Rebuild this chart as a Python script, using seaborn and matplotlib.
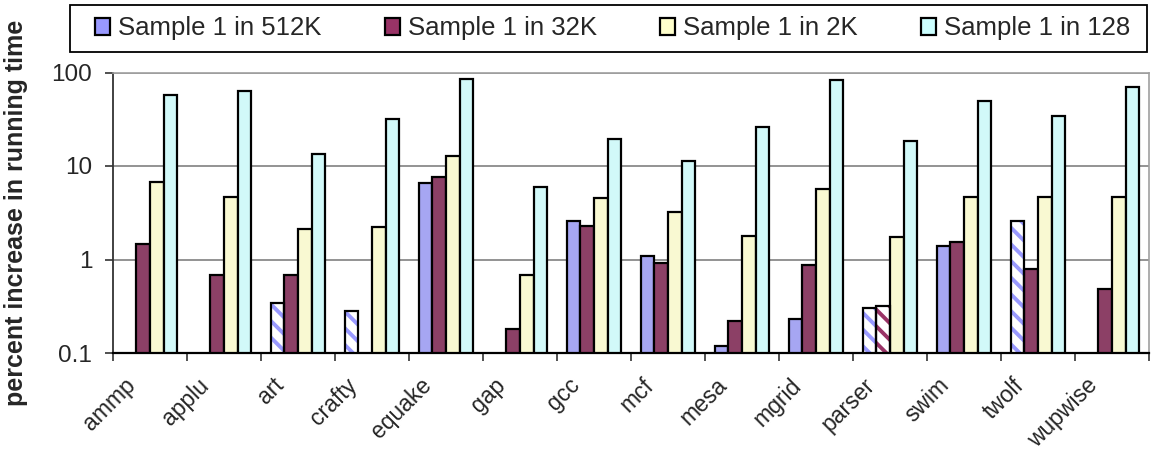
# sampling overhead chart
# 벤치마크별 실행시간 증가율 (log scale)

import numpy as np
import pandas as pd
import seaborn as sns
import matplotlib.pyplot as plt
import matplotlib.transforms as mtransforms
from matplotlib.patches import Patch, Rectangle
from matplotlib.ticker import FixedLocator, FixedFormatter, NullLocator

nan = np.nan

benchmarks = ["ammp", "applu", "art", "crafty", "equake", "gap", "gcc",
              "mcf", "mesa", "mgrid", "parser", "swim", "twolf", "wupwise"]
series_names = ["Sample 1 in 512K", "Sample 1 in 32K",
                "Sample 1 in 2K", "Sample 1 in 128"]

s512k = [nan, nan, 0.34, 0.28, 6.5, nan, 2.55, 1.1, 0.12, 0.23, 0.30, 1.38, 2.55, nan]
s32k = [1.45, 0.69, 0.68, nan, 7.7, 0.18, 2.3, 0.91, 0.22, 0.88, 0.32, 1.55, 0.8, 0.48]
s2k = [6.8, 4.7, 2.1, 2.25, 12.9, 0.68, 4.5, 3.25, 1.8, 5.7, 1.76, 4.7, 4.7, 4.7]
s128 = [58, 64, 13.5, 32, 85, 6.0, 19.6, 11.4, 26, 83, 18.6, 49, 34, 70]

# 빗금 막대 (hatched bars)
h512k = [False, False, True, True, False, False, False,
         False, False, False, True, False, True, False]
h32k = [False, False, False, False, False, False, False,
        False, False, False, True, False, False, False]
h2k = [False] * 14
h128 = [False] * 14

colors = ["#9999FF", "#993366", "#FFFFCC", "#CCFFFF"]

# long form 데이터프레임
df = pd.DataFrame({
    "benchmark": benchmarks * 4,
    "series": np.repeat(series_names, len(benchmarks)),
    "value": s512k + s32k + s2k + s128,
}).dropna()
hatched = [h512k, h32k, h2k, h128]

sns.set_style("white")
plt.rcParams["font.family"] = ["Liberation Sans", "DejaVu Sans"]
plt.rcParams["hatch.linewidth"] = 2.8

fig = plt.figure(figsize=(11.51, 4.55), dpi=100)
ax = fig.add_axes([113 / 1151, 1 - 353 / 455, 1036 / 1151, (353 - 72.5) / 455])

sns.barplot(data=df, x="benchmark", y="value", hue="series",
            order=benchmarks, hue_order=series_names,
            palette=dict(zip(series_names, colors)),
            width=0.74, gap=0, edgecolor="black", linewidth=1.6,
            legend=False, ax=ax)
ax.set_yscale("log")
ax.set_ylim(0.1, 100)
ax.set_xlim(-0.5, len(benchmarks) - 0.5)

# 빗금 처리
for i, cont in enumerate(ax.containers):
    for bar in cont:
        k = int(round(bar.get_x() + bar.get_width() / 2))
        if hatched[i][k]:
            bar.set_facecolor("white")
            bar.set_edgecolor(colors[i])
            bar.set_hatch("\\\\")
            bar.set_linewidth(0)
            ax.add_patch(Rectangle(bar.get_xy(), bar.get_width(), bar.get_height(),
                                   fill=False, edgecolor="black", linewidth=1.6,
                                   zorder=bar.get_zorder() + 0.1))

# 격자선
ax.yaxis.grid(True, color="#808080", linewidth=1.2)
ax.set_axisbelow(True)

# y축
ax.yaxis.set_major_locator(FixedLocator([0.1, 1, 10, 100]))
ax.yaxis.set_major_formatter(FixedFormatter(["0.1", "1", "10", "100"]))
ax.yaxis.set_minor_locator(NullLocator())
ax.tick_params(axis="y", which="major", direction="out", length=6, width=1.2,
               color="#333333", pad=9, labelsize=17.5, left=True)

# x축: 경계에 눈금, 가운데에 라벨
ax.set_xticks(np.arange(len(benchmarks) + 1) - 0.5)
ax.set_xticklabels([])
ax.set_xticks(np.arange(len(benchmarks)), minor=True)
ax.set_xticklabels(benchmarks, minor=True, rotation=45, ha="right", va="top")
ax.tick_params(axis="x", which="major", direction="out", length=6, width=1.2,
               color="#333333", bottom=True)
ax.tick_params(axis="x", which="minor", length=0, pad=15, labelsize=16.5)
offset = mtransforms.ScaledTranslation(-0.10, 0, fig.dpi_scale_trans)
for lab in ax.get_xticklabels(minor=True):
    lab.set_transform(lab.get_transform() + offset)
ax.set_xlabel("")

ax.set_ylabel("percent increase in running time", fontsize=18, fontweight="bold")
ax.yaxis.set_label_coords(-0.082, 0.5)

for side in ["top", "right"]:
    ax.spines[side].set_color("#a0a0a0")
    ax.spines[side].set_linewidth(1.2)
ax.spines["left"].set_color("#333333")
ax.spines["left"].set_linewidth(1.3)
ax.spines["bottom"].set_color("black")
ax.spines["bottom"].set_linewidth(1.6)

# 범례
handles = [Patch(facecolor=c, edgecolor="black", linewidth=1.6) for c in colors]
leg = fig.legend(handles, series_names, loc="center", ncol=4, mode="expand",
                 bbox_to_anchor=(95 / 1151, 1 - 52 / 455, 1035 / 1151, 47 / 455),
                 fontsize=18.5, frameon=False, borderpad=0,
                 handlelength=0.6, handleheight=0.6, handletextpad=0.3,
                 borderaxespad=0)
fig.add_artist(Rectangle((70 / 1151, 1 - 52 / 455), 1077 / 1151, 47 / 455,
                         transform=fig.transFigure, fill=False,
                         edgecolor="black", linewidth=1.3))

fig.savefig("out.png", dpi=100)
